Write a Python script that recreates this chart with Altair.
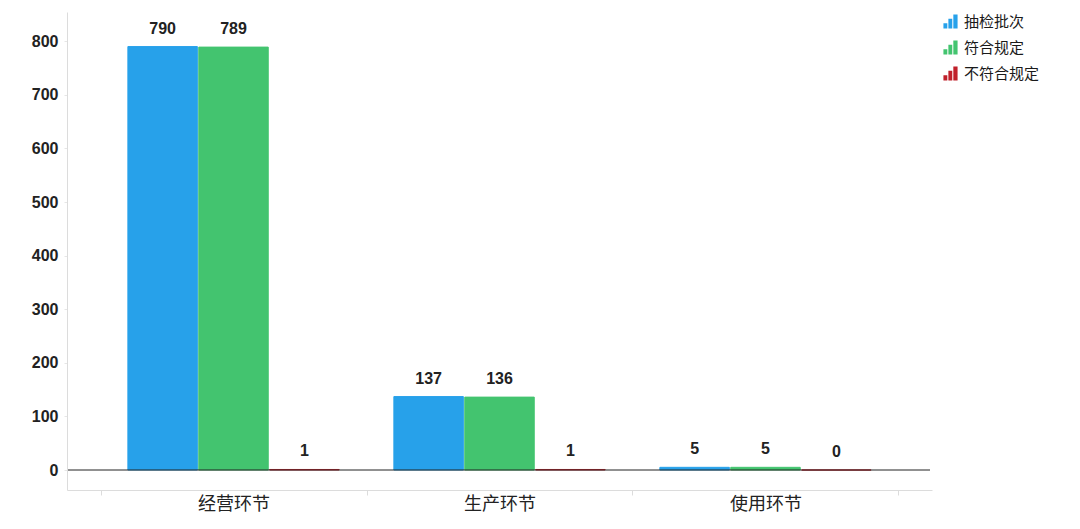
import altair as alt
import pandas as pd

categories = ["经营环节", "生产环节", "使用环节"]
series = ["抽检批次", "符合规定", "不符合规定"]
colors = ["#27a1ea", "#43c46f", "#c0202a"]
v_batches = [790, 137, 5]
v_ok = [789, 136, 5]
v_bad = [1, 1, 0]
y_ticks = [0, 100, 200, 300, 400, 500, 600, 700, 800]

rows = []
for i, c in enumerate(categories):
    for s, vals in zip(series, [v_batches, v_ok, v_bad]):
        rows.append({"环节": c, "类别": s, "值": vals[i]})
df = pd.DataFrame(rows)

icon = ("M-1,1 L-0.45,1 L-0.45,0.25 L-1,0.25 Z "
        "M-0.3,1 L0.25,1 L0.25,-0.4 L-0.3,-0.4 Z "
        "M0.4,1 L1,1 L1,-1 L0.4,-1 Z")

W, H = 865, 478
ydom = [-37.3, 854.5]

x = alt.X("环节:N", sort=categories, title=None,
          scale=alt.Scale(paddingInner=0, paddingOuter=0.126),
          axis=alt.Axis(labelAngle=0, labelFont="Noto Sans CJK SC", labelFontSize=18,
                        labelColor="#222222", domainColor="#dcdcdc", tickColor="#dcdcdc",
                        tickSize=5, tickBand="extent", labelPadding=0))
xo = alt.XOffset("类别:N", sort=series, scale=alt.Scale(paddingInner=0.02, paddingOuter=0.386))
y = alt.Y("值:Q", title=None,
          scale=alt.Scale(domain=ydom, nice=False, zero=False),
          axis=alt.Axis(values=y_ticks, labelFont="Liberation Sans", labelFontWeight="bold",
                        labelFontSize=16, labelColor="#222222", domainColor="#dcdcdc",
                        tickColor="#e6e6e6", tickSize=3, labelPadding=6, grid=False))
color = alt.Color("类别:N", sort=series, title=None,
                  scale=alt.Scale(domain=series, range=colors),
                  legend=alt.Legend(orient="none", legendX=876, legendY=2,
                                    symbolType=icon, symbolSize=200, symbolStrokeWidth=0,
                                    labelFont="Noto Sans CJK SC", labelFontSize=15,
                                    labelColor="#1a1a1a", rowPadding=10, symbolOffset=0,
                                    labelOffset=6))

base = alt.Chart(df)
bars = base.mark_bar(strokeWidth=1).encode(
    x=x, xOffset=xo, y=y, y2=alt.datum(0), color=color,
    stroke=alt.Stroke("类别:N", sort=series, scale=alt.Scale(domain=series, range=colors), legend=None))
labels = base.mark_text(font="Liberation Sans", fontWeight="bold", fontSize=16,
                        color="#222222", dy=-13, baseline="alphabetic").encode(
    x=x, xOffset=xo, y=y, text="值:Q")
baseline = alt.Chart(pd.DataFrame({"v": [0]})).mark_rule(color="#222222", strokeWidth=1).encode(
    y=alt.Y("v:Q", scale=alt.Scale(domain=ydom, nice=False, zero=False)),
    x=alt.value(1), x2=alt.value(W - 2))

chart = alt.layer(bars, baseline, labels).properties(
    width=W, height=H,
    background="white",
    autosize=alt.AutoSizeParams(type="none"),
    padding={"left": 59, "top": 4, "right": 140, "bottom": 31},
).configure_view(stroke=None)

chart.save("out.html", embed_options={"renderer": "svg", "actions": False})
